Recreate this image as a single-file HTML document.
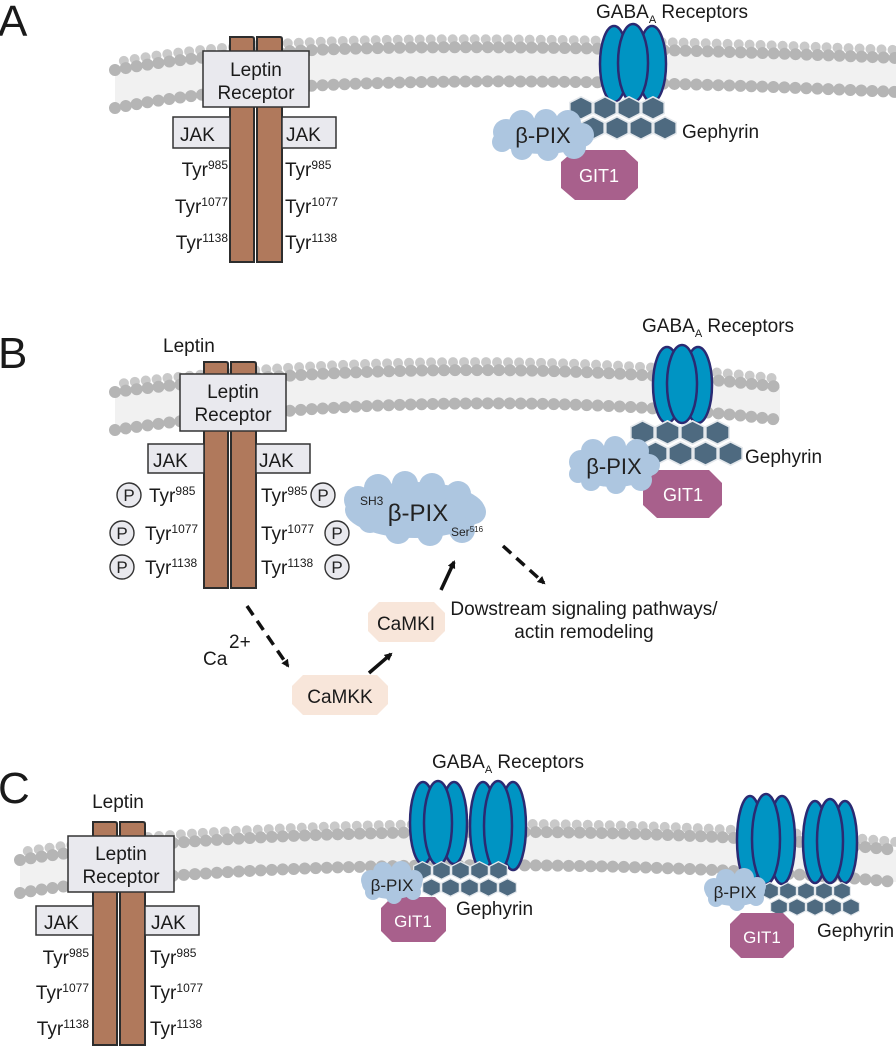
<!DOCTYPE html>
<html><head><meta charset="utf-8"><style>
html,body{margin:0;padding:0;background:#fff;}
svg{display:block;font-family:"Liberation Sans",sans-serif;}
</style></head><body>
<svg width="896" height="1050" viewBox="0 0 896 1050" xmlns="http://www.w3.org/2000/svg">
<defs>
<symbol id="hex" viewBox="0 0 24 24"><polygon points="12,0.8 23.2,6.5 23.2,17.5 12,23.2 0.8,17.5 0.8,6.5" fill="#4e6a80" stroke="#e4e8ec" stroke-width="1.6"/></symbol>
<marker id="ah" markerWidth="8" markerHeight="8" refX="6" refY="4" orient="auto" markerUnits="userSpaceOnUse"><path d="M0,0 L8,4 L0,8 z" fill="#111"/></marker>
</defs>
<style>
.bead{fill:none;stroke:#b5b5b5;stroke-width:12;stroke-linecap:round;stroke-dasharray:0 11;}
.bead2{fill:none;stroke:#c9c9c9;stroke-width:10;stroke-linecap:round;stroke-dasharray:0 11;stroke-dashoffset:5;}
.tail{fill:#f1f1f1;}
.bar{fill:#b0795c;stroke:#2d2d2d;stroke-width:2;}
.box{fill:#e9e9ee;stroke:#333;stroke-width:1.5;}
.t{font-size:19px;fill:#1a1a1a;}
.lab{font-size:44px;fill:#1a1a1a;}
.gaba{fill:#0094c3;stroke:#2b2a72;stroke-width:2.5;}
.cloud{fill:#adc6e0;}
.git{fill:#a8608c;}
.camk{fill:#f8e6da;}
</style>

<!-- ================= PANEL A ================= -->
<text x="-2" y="36" class="lab">A</text>
<path class="tail" d="M115,70 C250,45 450,40 896,58 L896,92 C450,72 250,82 115,108 Z"/>
<path class="bead2" d="M118,62 C250,37 450,32 896,50"/>
<path class="bead" d="M115,70 C250,45 450,40 896,58"/>
<path class="bead" d="M115,108 C250,82 450,72 896,92"/>
<path class="bar" d="M230,262 V37 H252 Q254,37 254,39 V262 Z"/>
<path class="bar" d="M257,262 V37 H280 Q282,37 282,39 V262 Z"/>
<rect class="box" x="203" y="51" width="106" height="56"/>
<text x="256" y="76" class="t" text-anchor="middle" font-size="17">Leptin</text>
<text x="256" y="99" class="t" text-anchor="middle" font-size="17">Receptor</text>
<rect class="box" x="173" y="117" width="57" height="31"/>
<rect class="box" x="282" y="117" width="54" height="31"/>
<text x="180" y="141" class="t">JAK</text>
<text x="286" y="141" class="t">JAK</text>
<text x="228" y="176" class="t" text-anchor="end">Tyr<tspan dy="-7" font-size="12">985</tspan></text>
<text x="228" y="213" class="t" text-anchor="end">Tyr<tspan dy="-7" font-size="12">1077</tspan></text>
<text x="228" y="249" class="t" text-anchor="end">Tyr<tspan dy="-7" font-size="12">1138</tspan></text>
<text x="285" y="176" class="t">Tyr<tspan dy="-7" font-size="12">985</tspan></text>
<text x="285" y="213" class="t">Tyr<tspan dy="-7" font-size="12">1077</tspan></text>
<text x="285" y="249" class="t">Tyr<tspan dy="-7" font-size="12">1138</tspan></text>
<!-- GABA A -->
<text x="596" y="18" class="t" font-size="18">GABA<tspan font-size="11" dy="5">A</tspan><tspan dy="-5"> Receptors</tspan></text>
<ellipse class="gaba" cx="614" cy="64" rx="14" ry="38"/>
<ellipse class="gaba" cx="652" cy="64" rx="14" ry="38"/>
<ellipse class="gaba" cx="633" cy="63" rx="15" ry="39"/>
<use href="#hex" x="569" y="96" width="24" height="24"/><use href="#hex" x="593" y="96" width="24" height="24"/><use href="#hex" x="617" y="96" width="24" height="24"/><use href="#hex" x="641" y="96" width="24" height="24"/>
<use href="#hex" x="581" y="116" width="24" height="24"/><use href="#hex" x="605" y="116" width="24" height="24"/><use href="#hex" x="629" y="116" width="24" height="24"/><use href="#hex" x="653" y="116" width="24" height="24"/>
<text x="682" y="138" class="t" font-size="18">Gephyrin</text>
<polygon class="git" points="575,150 625,150 638,162 638,188 625,200 575,200 561,188 561,162"/>
<text x="599" y="182" text-anchor="middle" font-size="18" fill="#fff">GIT1</text>
<g class="cloud"><ellipse cx="543" cy="136" rx="47" ry="18"/><circle cx="506" cy="132" r="13"/><circle cx="522" cy="123" r="13"/><circle cx="546" cy="121" r="12"/><circle cx="568" cy="123" r="13"/><circle cx="582" cy="135" r="12"/><circle cx="574" cy="147" r="12"/><circle cx="548" cy="150" r="11"/><circle cx="522" cy="149" r="11"/><circle cx="502" cy="142" r="10"/></g>
<text x="543" y="143" text-anchor="middle" font-size="22" fill="#222">β-PIX</text>

<!-- ================= PANEL B ================= -->
<text x="-2" y="368" class="lab">B</text>
<path class="tail" d="M115,392 C300,368 550,360 780,387 L780,420 C550,392 300,402 115,430 Z"/>
<path class="bead2" d="M118,384 C300,360 550,352 780,379"/>
<path class="bead" d="M115,392 C300,368 550,360 780,387"/>
<path class="bead" d="M115,430 C300,402 550,392 780,420"/>
<text x="163" y="352" class="t">Leptin</text>
<path class="bar" d="M204,588 V362 H226 Q228,362 228,364 V588 Z"/>
<path class="bar" d="M231,588 V362 H254 Q256,362 256,364 V588 Z"/>
<rect class="box" x="180" y="374" width="106" height="57"/>
<text x="233" y="398" class="t" text-anchor="middle" font-size="17">Leptin</text>
<text x="233" y="421" class="t" text-anchor="middle" font-size="17">Receptor</text>
<rect class="box" x="148" y="444" width="56" height="29"/>
<rect class="box" x="256" y="444" width="54" height="29"/>
<text x="153" y="467" class="t">JAK</text>
<text x="259" y="467" class="t">JAK</text>
<text x="149" y="502" class="t">Tyr<tspan dy="-7" font-size="12">985</tspan></text>
<text x="145" y="540" class="t">Tyr<tspan dy="-7" font-size="12">1077</tspan></text>
<text x="145" y="574" class="t">Tyr<tspan dy="-7" font-size="12">1138</tspan></text>
<text x="261" y="502" class="t">Tyr<tspan dy="-7" font-size="12">985</tspan></text>
<text x="261" y="540" class="t">Tyr<tspan dy="-7" font-size="12">1077</tspan></text>
<text x="261" y="574" class="t">Tyr<tspan dy="-7" font-size="12">1138</tspan></text>
<g fill="#e9e9ee" stroke="#333" stroke-width="1.4">
<circle cx="129" cy="495" r="12"/><circle cx="122" cy="533" r="12"/><circle cx="122" cy="567" r="12"/>
<circle cx="323" cy="495" r="12"/><circle cx="337" cy="533" r="12"/><circle cx="337" cy="567" r="12"/></g>
<g font-size="17" text-anchor="middle" fill="#222">
<text x="129" y="501">P</text><text x="122" y="539">P</text><text x="122" y="573">P</text>
<text x="323" y="501">P</text><text x="337" y="539">P</text><text x="337" y="573">P</text></g>
<!-- middle beta-PIX -->
<g class="cloud"><ellipse cx="415" cy="510" rx="70" ry="28"/><circle cx="358" cy="500" r="14"/><circle cx="378" cy="488" r="14"/><circle cx="405" cy="484" r="13"/><circle cx="432" cy="486" r="13"/><circle cx="458" cy="494" r="13"/><circle cx="474" cy="512" r="12"/><circle cx="462" cy="530" r="13"/><circle cx="430" cy="533" r="13"/><circle cx="398" cy="531" r="13"/><circle cx="370" cy="521" r="12"/></g>
<text x="360" y="505" font-size="12" fill="#222">SH3</text>
<text x="418" y="521" text-anchor="middle" font-size="24" fill="#222">β-PIX</text>
<text x="451" y="536" font-size="12" fill="#222">Ser<tspan dy="-4" font-size="8">516</tspan></text>
<!-- GABA B -->
<text x="642" y="332" class="t" font-size="18">GABA<tspan font-size="11" dy="5">A</tspan><tspan dy="-5"> Receptors</tspan></text>
<ellipse class="gaba" cx="667" cy="385" rx="14" ry="38"/>
<ellipse class="gaba" cx="698" cy="385" rx="14" ry="38"/>
<ellipse class="gaba" cx="682" cy="384" rx="15" ry="39"/>
<use href="#hex" x="630" y="420" width="25" height="25"/><use href="#hex" x="655" y="420" width="25" height="25"/><use href="#hex" x="680" y="420" width="25" height="25"/><use href="#hex" x="705" y="420" width="25" height="25"/>
<use href="#hex" x="643" y="441" width="25" height="25"/><use href="#hex" x="668" y="441" width="25" height="25"/><use href="#hex" x="693" y="441" width="25" height="25"/><use href="#hex" x="718" y="441" width="25" height="25"/>
<text x="745" y="463" class="t" font-size="18">Gephyrin</text>
<polygon class="git" points="657,470 709,470 722,483 722,505 709,518 657,518 643,505 643,483"/>
<text x="683" y="501" text-anchor="middle" font-size="18" fill="#fff">GIT1</text>
<g class="cloud"><ellipse cx="614" cy="466" rx="43" ry="21"/><circle cx="581" cy="462" r="12"/><circle cx="593" cy="451" r="12"/><circle cx="615" cy="447" r="11"/><circle cx="637" cy="451" r="12"/><circle cx="649" cy="465" r="11"/><circle cx="641" cy="480" r="11"/><circle cx="616" cy="484" r="10"/><circle cx="591" cy="481" r="10"/><circle cx="578" cy="474" r="9"/></g>
<text x="614" y="474" text-anchor="middle" font-size="22" fill="#222">β-PIX</text>
<!-- arrows -->
<g stroke="#111" stroke-width="3.5" fill="none">
<line x1="247" y1="606" x2="288" y2="666" stroke-dasharray="11 7" marker-end="url(#ah)"/>
<line x1="369" y1="673" x2="391" y2="654" marker-end="url(#ah)"/>
<line x1="441" y1="590" x2="454" y2="562" marker-end="url(#ah)"/>
<line x1="503" y1="546" x2="544" y2="583" stroke-dasharray="11 7" marker-end="url(#ah)"/>
</g>
<polygon class="camk" points="303,675 377,675 388,686 388,704 377,715 303,715 292,704 292,686"/>
<text x="340" y="703" text-anchor="middle" class="t">CaMKK</text>
<polygon class="camk" points="379,602 434,602 445,613 445,631 434,642 379,642 368,631 368,613"/>
<text x="406" y="630" text-anchor="middle" class="t">CaMKI</text>
<text x="203" y="665" class="t" font-size="20">Ca</text>
<text x="229" y="648" class="t" font-size="13">2+</text>
<text x="584" y="615" text-anchor="middle" class="t" font-size="17">Dowstream signaling pathways/</text>
<text x="584" y="638" text-anchor="middle" class="t" font-size="17">actin remodeling</text>

<!-- ================= PANEL C ================= -->
<text x="-2" y="803" class="lab">C</text>
<text x="118" y="808" class="t" text-anchor="middle">Leptin</text>
<path class="tail" d="M20,860 C200,830 600,820 896,850 L896,882 C600,855 200,862 20,893 Z"/>
<path class="bead2" d="M22,852 C200,822 600,812 896,842"/>
<path class="bead" d="M20,860 C200,830 600,820 896,850"/>
<path class="bead" d="M20,893 C200,862 600,855 896,882"/>
<path class="bar" d="M93,1045 V822 H115 Q117,822 117,824 V1045 Z"/>
<path class="bar" d="M120,1045 V822 H143 Q145,822 145,824 V1045 Z"/>
<rect class="box" x="68" y="836" width="106" height="56"/>
<text x="121" y="860" class="t" text-anchor="middle" font-size="17">Leptin</text>
<text x="121" y="883" class="t" text-anchor="middle" font-size="17">Receptor</text>
<rect class="box" x="36" y="906" width="57" height="29"/>
<rect class="box" x="145" y="906" width="54" height="29"/>
<text x="44" y="929" class="t">JAK</text>
<text x="151" y="929" class="t">JAK</text>
<text x="89" y="964" class="t" text-anchor="end">Tyr<tspan dy="-7" font-size="12">985</tspan></text>
<text x="89" y="999" class="t" text-anchor="end">Tyr<tspan dy="-7" font-size="12">1077</tspan></text>
<text x="89" y="1035" class="t" text-anchor="end">Tyr<tspan dy="-7" font-size="12">1138</tspan></text>
<text x="150" y="964" class="t">Tyr<tspan dy="-7" font-size="12">985</tspan></text>
<text x="150" y="999" class="t">Tyr<tspan dy="-7" font-size="12">1077</tspan></text>
<text x="150" y="1035" class="t">Tyr<tspan dy="-7" font-size="12">1138</tspan></text>
<!-- C cluster 1 -->
<text x="432" y="768" class="t" font-size="18">GABA<tspan font-size="11" dy="5">A</tspan><tspan dy="-5"> Receptors</tspan></text>
<ellipse class="gaba" cx="423" cy="823" rx="13" ry="41"/>
<ellipse class="gaba" cx="454" cy="823" rx="13" ry="41"/>
<ellipse class="gaba" cx="438" cy="823" rx="14" ry="42"/>
<ellipse class="gaba" cx="483" cy="826" rx="13" ry="44"/>
<ellipse class="gaba" cx="513" cy="826" rx="13" ry="44"/>
<ellipse class="gaba" cx="498" cy="826" rx="14" ry="45"/>
<use href="#hex" x="413" y="860" width="19" height="21"/><use href="#hex" x="432" y="860" width="19" height="21"/><use href="#hex" x="451" y="860" width="19" height="21"/><use href="#hex" x="470" y="860" width="19" height="21"/><use href="#hex" x="489" y="860" width="19" height="21"/>
<use href="#hex" x="422" y="877" width="19" height="21"/><use href="#hex" x="441" y="877" width="19" height="21"/><use href="#hex" x="460" y="877" width="19" height="21"/><use href="#hex" x="479" y="877" width="19" height="21"/><use href="#hex" x="498" y="877" width="19" height="21"/>
<text x="456" y="915" class="t" font-size="17">Gephyrin</text>
<polygon class="git" points="392,897 435,897 446,908 446,931 435,942 392,942 381,931 381,908"/>
<text x="413" y="927" text-anchor="middle" font-size="17" fill="#fff">GIT1</text>
<g class="cloud"><ellipse cx="392" cy="884" rx="30" ry="15"/><circle cx="371" cy="880" r="10"/><circle cx="383" cy="872" r="10"/><circle cx="401" cy="871" r="10"/><circle cx="414" cy="879" r="9"/><circle cx="413" cy="892" r="8"/><circle cx="394" cy="896" r="8"/><circle cx="373" cy="892" r="8"/></g>
<text x="392" y="891" text-anchor="middle" font-size="17" fill="#222">β-PIX</text>
<!-- C cluster 2 -->
<ellipse class="gaba" cx="750" cy="840" rx="13" ry="44"/>
<ellipse class="gaba" cx="782" cy="840" rx="13" ry="44"/>
<ellipse class="gaba" cx="766" cy="839" rx="14" ry="45"/>
<ellipse class="gaba" cx="815" cy="842" rx="12" ry="41"/>
<ellipse class="gaba" cx="845" cy="842" rx="12" ry="41"/>
<ellipse class="gaba" cx="830" cy="841" rx="13" ry="42"/>
<use href="#hex" x="761" y="881" width="18" height="20"/><use href="#hex" x="779" y="881" width="18" height="20"/><use href="#hex" x="797" y="881" width="18" height="20"/><use href="#hex" x="815" y="881" width="18" height="20"/><use href="#hex" x="833" y="881" width="18" height="20"/>
<use href="#hex" x="770" y="897" width="18" height="20"/><use href="#hex" x="788" y="897" width="18" height="20"/><use href="#hex" x="806" y="897" width="18" height="20"/><use href="#hex" x="824" y="897" width="18" height="20"/><use href="#hex" x="842" y="897" width="18" height="20"/>
<text x="817" y="937" class="t" font-size="17">Gephyrin</text>
<polygon class="git" points="741,913 783,913 794,924 794,947 783,958 741,958 730,947 730,924"/>
<text x="762" y="943" text-anchor="middle" font-size="17" fill="#fff">GIT1</text>
<g class="cloud"><ellipse cx="735" cy="891" rx="30" ry="15"/><circle cx="714" cy="888" r="10"/><circle cx="726" cy="879" r="10"/><circle cx="744" cy="878" r="10"/><circle cx="757" cy="886" r="9"/><circle cx="756" cy="898" r="8"/><circle cx="737" cy="903" r="8"/><circle cx="716" cy="899" r="8"/></g>
<text x="735" y="898" text-anchor="middle" font-size="17" fill="#222">β-PIX</text>
</svg>
</body></html>
